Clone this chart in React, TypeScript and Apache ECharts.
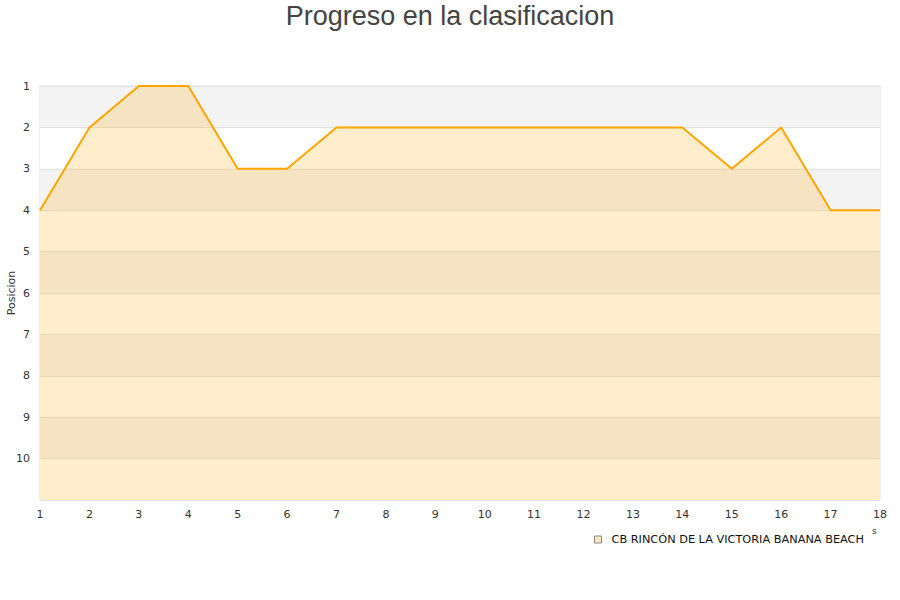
import React, { useEffect, useRef } from "react";
import * as echarts from "echarts";

const jornadas = ["1","2","3","4","5","6","7","8","9","10","11","12","13","14","15","16","17","18"];
const posiciones = [4, 2, 1, 1, 3, 3, 2, 2, 2, 2, 2, 2, 2, 2, 3, 2, 4, 4];
const teamName = "CB RINCÓN DE LA VICTORIA BANANA BEACH";
const yAxisName = "Posicion";

export default function App() {
  const ref = useRef<HTMLDivElement>(null);
  useEffect(() => {
    const chart = echarts.init(ref.current!, null, { renderer: "svg" });
    chart.setOption({
      animation: false,
      title: {
        text: "Progreso en la clasificacion",
        left: "center",
        top: -3,
        textStyle: { fontFamily: "Liberation Sans, Arial, sans-serif", fontSize: 27, fontWeight: "normal", color: "#444" },
      },
      grid: {
        left: 40, right: 20, top: 86, bottom: 100,
        containLabel: false, outerBoundsMode: "none",
        show: true, borderColor: "#ddd", borderWidth: 1, backgroundColor: "transparent",
      },
      legend: {
        data: [{ name: teamName, icon: "rect", itemStyle: { color: "#fbe7c3", borderColor: "#8a8a8a", borderWidth: 1 } }],
        left: 589,
        top: 529,
        itemWidth: 7,
        itemHeight: 7,
        textStyle: { fontFamily: "DejaVu Sans, sans-serif", fontSize: 11.3, color: "#111", padding: [0, 0, 0, 5] },
      },
      xAxis: {
        type: "category",
        data: jornadas,
        boundaryGap: false,
        axisLine: { show: false },
        axisTick: { show: false },
        splitLine: { show: false },
        axisLabel: { fontFamily: "DejaVu Sans, sans-serif", fontSize: 11, color: "#333", margin: 9 },
      },
      yAxis: {
        type: "value",
        inverse: true,
        min: 1,
        max: 11,
        interval: 1,
        axisLine: { show: false },
        axisTick: { show: false },
        axisLabel: {
          fontFamily: "DejaVu Sans, sans-serif",
          fontSize: 11,
          color: "#333",
          margin: 10,
          formatter: (v: number) => (v === 11 ? "" : String(v)),
        },
        splitLine: { show: true, lineStyle: { color: "#e2e2e2", width: 1 } },
        splitArea: { show: true, areaStyle: { color: ["#f3f3f3", "#ffffff"] } },
      },
      series: [
        {
          name: teamName,
          type: "line",
          data: posiciones,
          symbol: "none",
          lineStyle: { color: "#FFA500", width: 2 },
          itemStyle: { color: "#FFA500", borderColor: "#FFA500" },
          areaStyle: { color: "rgba(255,165,0,0.2)", opacity: 1, origin: "end" },
        },
      ],
      graphic: [
        {
          type: "text",
          x: 11,
          y: 293,
          rotation: Math.PI / 2,
          style: {
            text: yAxisName,
            fontFamily: "DejaVu Sans, sans-serif",
            fontSize: 11,
            fill: "#333",
            textAlign: "center",
            textVerticalAlign: "middle",
          },
        },
        {
          type: "text",
          left: 872,
          top: 526,
          style: { text: "s", fontFamily: "DejaVu Sans, sans-serif", fontSize: 9, fill: "#333" },
        },
      ],
    });
    return () => chart.dispose();
  }, []);
  return <div ref={ref} style={{ position: "absolute", left: 0, top: 0, width: 900, height: 600 }} />;
}
